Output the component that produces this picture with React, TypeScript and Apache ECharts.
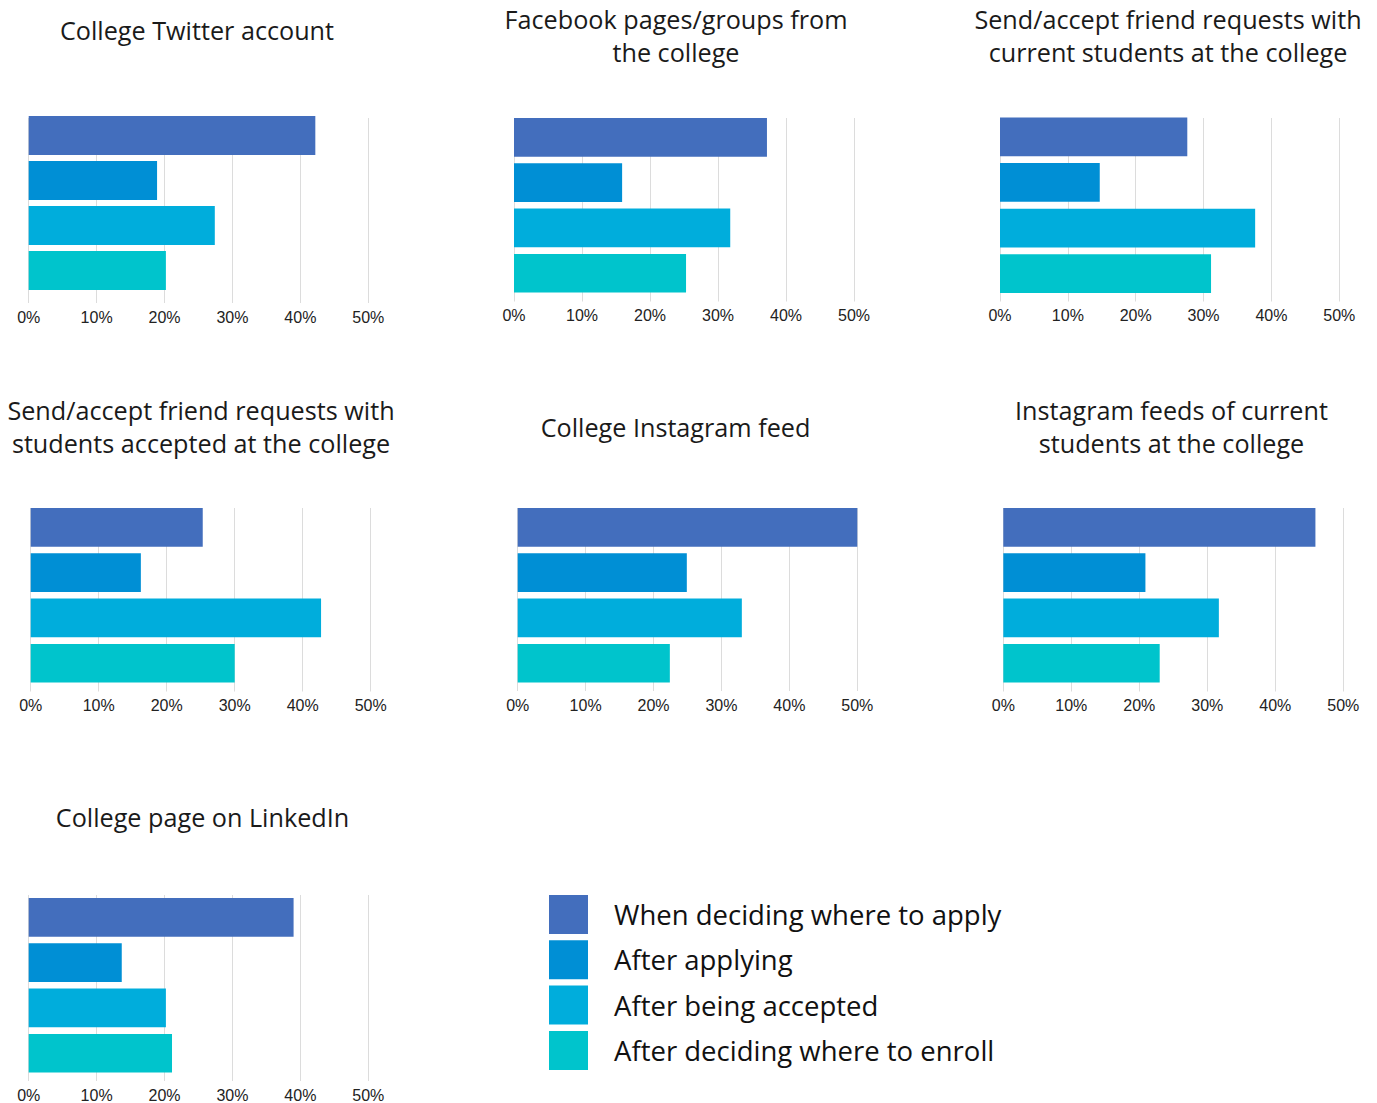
import React, { useEffect, useRef } from "react";
import * as echarts from "echarts";

const categories = [
  "When deciding where to apply",
  "After applying",
  "After being accepted",
  "After deciding where to enroll",
];

const panelTitles = [
  "College Twitter account",
  "Facebook pages/groups from\nthe college",
  "Send/accept friend requests with\ncurrent students at the college",
  "Send/accept friend requests with\nstudents accepted at the college",
  "College Instagram feed",
  "Instagram feeds of current\nstudents at the college",
  "College page on LinkedIn",
];

const whenDecidingValues = [42.2, 37.2, 27.6, 25.3, 50.8, 45.9, 39.0];
const afterApplyingValues = [18.9, 15.9, 14.7, 16.2, 24.9, 20.9, 13.7];
const afterAcceptedValues = [27.4, 31.8, 37.6, 42.7, 33.0, 31.7, 20.2];
const afterEnrollValues = [20.2, 25.3, 31.1, 30.0, 22.4, 23.0, 21.1];

const tickLabels = ["0%", "10%", "20%", "30%", "40%", "50%"];
const axisMin = 0;
const axisMax = 50;
const axisInterval = 10;

const seriesColors = ["#436EBD", "#008FD5", "#00ADDC", "#00C4CC"];

// layout of each panel (pixels)
const layouts = [
  { x0: 28.7, x50: 368.3, gTop: 118, gBot: 303, barTop: 116, pitch: 45, bh: 39, tx: 197, ty: 30 },
  { x0: 514, x50: 854, gTop: 118, gBot: 301.5, barTop: 118, pitch: 45.3, bh: 38.7, tx: 676, ty: 35.5 },
  { x0: 1000, x50: 1339.3, gTop: 118, gBot: 301.5, barTop: 117.5, pitch: 45.6, bh: 38.7, tx: 1168, ty: 35.5 },
  { x0: 30.7, x50: 370.7, gTop: 508, gBot: 691.5, barTop: 508, pitch: 45.3, bh: 38.7, tx: 201, ty: 426.5 },
  { x0: 517.7, x50: 857.3, gTop: 508, gBot: 691, barTop: 508, pitch: 45.3, bh: 38.7, tx: 675.5, ty: 427 },
  { x0: 1003.3, x50: 1343.3, gTop: 508, gBot: 691.5, barTop: 508, pitch: 45.3, bh: 38.7, tx: 1171.5, ty: 426.5 },
  { x0: 28.7, x50: 368.3, gTop: 895, gBot: 1081, barTop: 898, pitch: 45.3, bh: 38.7, tx: 202.5, ty: 817 },
];

export default function App() {
  const ref = useRef<HTMLDivElement>(null);

  useEffect(() => {
    document.body.style.margin = "0";
    if (!ref.current) return;
    const chart = echarts.init(ref.current, undefined, { renderer: "svg" });
    const valueSets = [whenDecidingValues, afterApplyingValues, afterAcceptedValues, afterEnrollValues];

    const grids: any[] = [];
    const xAxes: any[] = [];
    const yAxes: any[] = [];
    const series: any[] = [];
    const graphics: any[] = [];

    layouts.forEach((L, p) => {
      const w = L.x50 - L.x0;
      grids.push({ left: L.x0, top: L.gTop, width: w, height: L.gBot - L.gTop, containLabel: false });
      const bTop = L.barTop - (L.pitch - L.bh) / 2;
      grids.push({ left: L.x0, top: bTop, width: w, height: 4 * L.pitch, containLabel: false });

      xAxes.push({
        type: "value",
        gridIndex: 2 * p,
        min: axisMin,
        max: axisMax,
        interval: axisInterval,
        axisLine: { show: false },
        axisTick: { show: false },
        axisLabel: {
          formatter: (v: number) => tickLabels[Math.round(v / axisInterval)] ?? v + "%",
          fontSize: 16,
          color: "#222",
          fontFamily: "'Liberation Sans', Arial, sans-serif",
          margin: 6,
        },
        splitLine: { show: true, lineStyle: { color: "#dcdcdc", width: 1 } },
      });
      xAxes.push({
        type: "value",
        gridIndex: 2 * p + 1,
        min: axisMin,
        max: axisMax,
        show: false,
        splitLine: { show: false },
      });
      yAxes.push({ type: "category", gridIndex: 2 * p, data: categories, show: false });
      yAxes.push({ type: "category", gridIndex: 2 * p + 1, data: categories, inverse: true, show: false });

      categories.forEach((name, k) => {
        series.push({
          type: "bar",
          name,
          xAxisIndex: 2 * p + 1,
          yAxisIndex: 2 * p + 1,
          stack: "panel" + p,
          barWidth: L.bh,
          itemStyle: { color: seriesColors[k] },
          data: categories.map((_, j) => (j === k ? valueSets[k][p] : "-")),
          emphasis: { disabled: true },
        });
      });

      graphics.push({
        type: "text",
        x: L.tx,
        y: L.ty,
        style: {
          text: panelTitles[p],
          fontSize: 25.2,
          fontFamily: "'Open Sans', 'Noto Sans', sans-serif",
          fill: "#1a1a1a",
          align: "center",
          verticalAlign: "middle",
          lineHeight: 33,
        },
      });
    });

    chart.setOption({
      animation: false,
      backgroundColor: "#ffffff",
      grid: grids,
      xAxis: xAxes,
      yAxis: yAxes,
      series,
      graphic: graphics,
      legend: {
        data: categories,
        orient: "vertical",
        left: 549,
        top: 895,
        padding: 0,
        itemWidth: 39,
        itemHeight: 39,
        itemGap: 6.3,
        icon: "rect",
        selectedMode: false,
        textStyle: {
          fontSize: 27.5,
          color: "#111",
          fontFamily: "'Open Sans', 'Noto Sans', sans-serif",
          padding: [0, 0, 0, 21],
        },
      },
    });
    return () => chart.dispose();
  }, []);

  return (
    <div
      ref={ref}
      style={{ position: "absolute", left: 0, top: 0, width: 1377, height: 1103, background: "#fff" }}
    />
  );
}
